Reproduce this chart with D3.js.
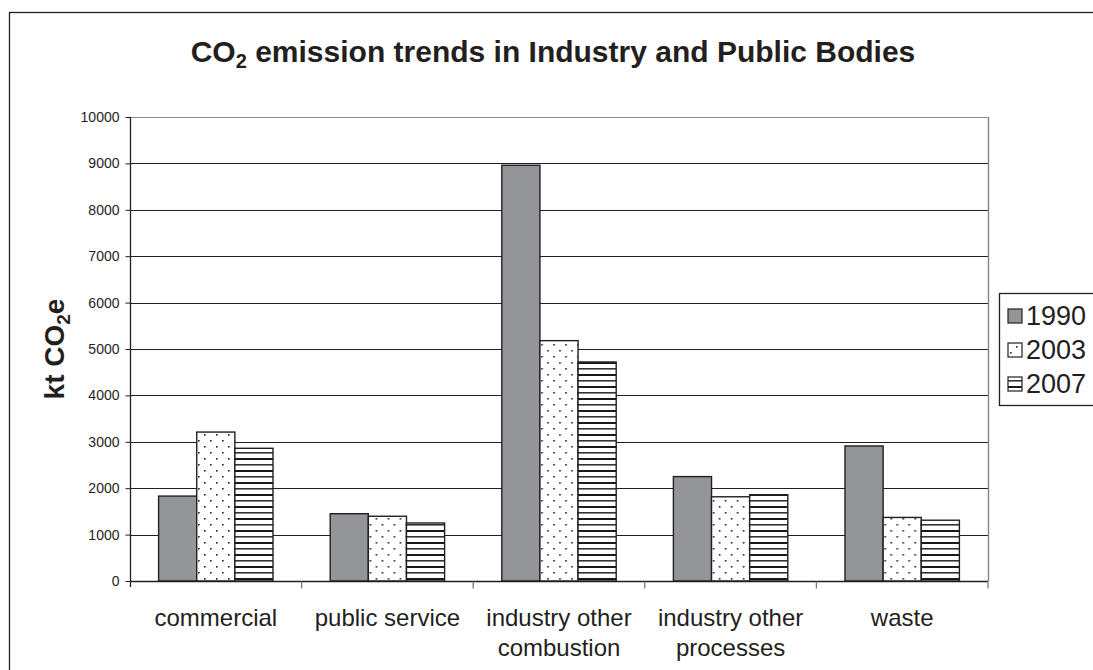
<!DOCTYPE html>
<html>
<head>
<meta charset="utf-8">
<script src="https://cdn.jsdelivr.net/npm/d3@7"></script>
<style>
  html, body { margin: 0; padding: 0; background: #fff; }
  svg { display: block; font-family: "Liberation Sans", Arial, sans-serif; }
</style>
</head>
<body>
<svg id="chart" width="1093" height="670"></svg>
<script>
const categories = [["commercial"], ["public service"], ["industry other", "combustion"], ["industry other", "processes"], ["waste"]];
const seriesNames = ["1990", "2003", "2007"];
const values1990 = [1830, 1450, 8960, 2250, 2910];
const values2003 = [3210, 1395, 5180, 1815, 1370];
const values2007 = [2860, 1250, 4720, 1860, 1310];
const yTicks = [0, 1000, 2000, 3000, 4000, 5000, 6000, 7000, 8000, 9000, 10000];

const seriesValues = [values1990, values2003, values2007];
const svg = d3.select("#chart");
const ink = "#231f20";

// patterns
const defs = svg.append("defs");
const dots = defs.append("pattern").attr("id", "dots").attr("patternUnits", "userSpaceOnUse")
  .attr("width", 12).attr("height", 12);
dots.append("rect").attr("width", 12).attr("height", 12).attr("fill", "#fff");
dots.append("rect").attr("x", 2).attr("y", 2).attr("width", 1.6).attr("height", 1.6).attr("fill", "#222");
dots.append("rect").attr("x", 8).attr("y", 8).attr("width", 1.6).attr("height", 1.6).attr("fill", "#222");
const stripes = defs.append("pattern").attr("id", "stripes").attr("patternUnits", "userSpaceOnUse")
  .attr("width", 12).attr("height", 12);
stripes.append("rect").attr("width", 12).attr("height", 12).attr("fill", "#fff");
stripes.append("rect").attr("y", 2).attr("width", 12).attr("height", 2).attr("fill", "#1a1a1a");
stripes.append("rect").attr("y", 8).attr("width", 12).attr("height", 1.6).attr("fill", "#333");

const fills = ["#939598", "url(#dots)", "url(#stripes)"];

// outer border
svg.append("rect").attr("x", 9.5).attr("y", 12.5).attr("width", 1100).attr("height", 700)
  .attr("fill", "none").attr("stroke", ink).attr("stroke-width", 1.3);

const plot = { left: 130, right: 988, top: 117, bottom: 581 };
const x0 = d3.scaleBand().domain(d3.range(categories.length)).range([plot.left, plot.right]).paddingInner(0).paddingOuter(0);
const x1 = d3.scaleBand().domain(seriesNames).range([0, x0.bandwidth()]).paddingOuter(0.75).paddingInner(0);
const y = d3.scaleLinear().domain([0, 10000]).range([plot.bottom, plot.top]);

// gridlines
svg.append("g").selectAll("line").data(yTicks.filter(t => t > 0)).join("line")
  .attr("x1", plot.left).attr("x2", plot.right)
  .attr("y1", d => Math.round(y(d)) + 0.5).attr("y2", d => Math.round(y(d)) + 0.5)
  .attr("stroke", d => d === 10000 ? "#8a8a8a" : "#231f20").attr("stroke-width", 1);
// right border of plot area
svg.append("line").attr("x1", plot.right + 0.5).attr("x2", plot.right + 0.5)
  .attr("y1", plot.top).attr("y2", plot.bottom).attr("stroke", "#8a8a8a").attr("stroke-width", 1.5);

// bars
const groups = svg.append("g").selectAll("g").data(categories).join("g")
  .attr("transform", (d, i) => `translate(${x0(i)},0)`);
groups.selectAll("rect").data((d, i) => seriesNames.map((s, k) => ({ s, k, v: seriesValues[k][i] }))).join("rect")
  .attr("x", d => x1(d.s)).attr("width", x1.bandwidth())
  .attr("y", d => y(d.v)).attr("height", d => y(0) - y(d.v))
  .attr("fill", d => fills[d.k]).attr("stroke", ink).attr("stroke-width", 1.4);

// y axis
const yAxis = d3.axisLeft(y).tickValues(yTicks).tickSize(5).tickPadding(6).tickFormat(d3.format("d"));
const yg = svg.append("g").attr("transform", `translate(${plot.left + 0.5},0)`).call(yAxis);
yg.select(".domain").attr("stroke", ink).attr("stroke-width", 1.3).attr("d", `M0,${plot.top}V${plot.bottom + 6}`);
yg.selectAll(".tick line").attr("stroke", ink);
yg.selectAll(".tick text").attr("font-size", 14).attr("fill", ink).attr("font-family", "Liberation Sans, Arial, sans-serif");

// x axis
const xg = svg.append("g").attr("transform", `translate(0,${plot.bottom + 0.5})`);
xg.append("line").attr("x1", plot.left).attr("x2", plot.right).attr("stroke", ink).attr("stroke-width", 1.3);
xg.selectAll(".xt").data(d3.range(categories.length + 1).slice(1)).join("line").attr("class", "xt")
  .attr("x1", d => plot.left + d * x0.bandwidth()).attr("x2", d => plot.left + d * x0.bandwidth())
  .attr("y1", 0).attr("y2", 7).attr("stroke", "#777").attr("stroke-width", 1.3);
const xl = xg.selectAll(".xl").data(categories).join("text").attr("class", "xl")
  .attr("text-anchor", "middle").attr("font-size", 24).attr("fill", ink)
  .attr("transform", (d, i) => `translate(${x0(i) + x0.bandwidth() / 2},0)`);
xl.selectAll("tspan").data(d => d).join("tspan").attr("x", 0).attr("y", (d, j) => 44 + j * 30).text(d => d);

// title
const title = svg.append("text").attr("x", 553).attr("y", 62).attr("text-anchor", "middle")
  .attr("font-size", 30).attr("font-weight", "bold").attr("fill", ink);
title.append("tspan").text("CO");
title.append("tspan").attr("font-size", 20).attr("dy", 6).text("2");
title.append("tspan").attr("dy", -6).text(" emission trends in Industry and Public Bodies");

// y label
const yl = svg.append("text").attr("transform", "translate(64,349) rotate(-90)").attr("text-anchor", "middle")
  .attr("font-size", 28).attr("font-weight", "bold").attr("fill", ink);
yl.append("tspan").text("kt CO");
yl.append("tspan").attr("font-size", 19).attr("dy", 6).text("2");
yl.append("tspan").attr("dy", -6).text("e");

// legend
const lg = svg.append("g");
lg.append("rect").attr("x", 999.5).attr("y", 293.5).attr("width", 110).attr("height", 112)
  .attr("fill", "#fff").attr("stroke", ink).attr("stroke-width", 1.3);
const li = lg.selectAll(".li").data(seriesNames).join("g").attr("class", "li")
  .attr("transform", (d, i) => `translate(1008,${316 + i * 34})`);
li.append("rect").attr("x", 0).attr("y", -7).attr("width", 14).attr("height", 14)
  .attr("fill", (d, i) => fills[i]).attr("stroke", ink).attr("stroke-width", 1.2);
li.append("text").attr("x", 18).attr("y", 9).attr("font-size", 27).attr("fill", ink).text(d => d);
</script>
</body>
</html>
